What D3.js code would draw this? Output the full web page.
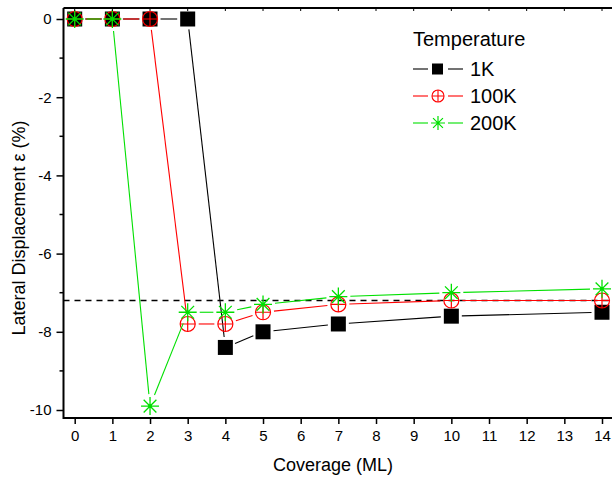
<!DOCTYPE html>
<html lang="en">
<head>
<meta charset="UTF-8">
<title>Lateral Displacement vs Coverage</title>
<script src="https://cdnjs.cloudflare.com/ajax/libs/d3/7.8.5/d3.min.js"></script>
<style>
    body { margin: 0; background: #fff; }
    svg { display: block; font-family: "Liberation Sans", Arial, sans-serif; }
</style>
</head>
<body>
<div id="chart"></div>
<script>
    // data
    const coverage = [0, 1, 2, 3, 4, 5, 7, 10, 14];
    const disp1K   = [0, 0, 0, 0, -8.4, -8.0, -7.8, -7.6, -7.5];
    const disp100K = [0, 0, 0, -7.8, -7.8, -7.5, -7.3, -7.2, -7.2];
    const disp200K = [0, 0, -9.9, -7.5, -7.5, -7.3, -7.1, -7.0, -6.9];
    const refLine = -7.2;
    const xTicks = d3.range(0, 15);
    const yTicks = [0, -2, -4, -6, -8, -10];

    const width = 612, height = 478;
    const margin = { left: 63.5, top: 8, right: -4, bottom: 60 };

    const svg = d3.select("#chart").append("svg")
        .attr("width", width).attr("height", height);

    const x = d3.scaleLinear().domain([0, 14]).range([74.7, 602]);
    const y = d3.scaleLinear().domain([0, -10]).range([19, 410]);

    const x0 = margin.left, x1 = width - margin.right;
    const yTop = margin.top, yBot = height - margin.bottom;

    // dashed reference line
    svg.append("line")
        .attr("x1", x0).attr("x2", x1)
        .attr("y1", y(refLine)).attr("y2", y(refLine))
        .attr("stroke", "#000").attr("stroke-width", 1.4)
        .attr("stroke-dasharray", "6,5");

    const series = [
        { name: "1K", values: disp1K, color: "#000", marker: "square", r: 7.5 },
        { name: "100K", values: disp100K, color: "#ff0000", marker: "circle", r: 8 },
        { name: "200K", values: disp200K, color: "#00e000", marker: "star", r: 9 }
    ];

    function drawMarker(g, type, cx, cy, color) {
        if (type === "square") {
            g.append("rect").attr("x", cx - 7.5).attr("y", cy - 7.5)
                .attr("width", 15).attr("height", 15).attr("fill", "#000");
        } else if (type === "circle") {
            g.append("circle").attr("cx", cx).attr("cy", cy).attr("r", 7.5)
                .attr("fill", "none").attr("stroke", color).attr("stroke-width", 1.2);
            g.append("path").attr("d", `M${cx - 7.5},${cy}H${cx + 7.5}M${cx},${cy - 7.5}V${cy + 7.5}`)
                .attr("stroke", color).attr("stroke-width", 1.2);
        } else {
            const r = 9;
            let d = "";
            for (let k = 0; k < 4; k++) {
                const a = k * Math.PI / 4;
                d += `M${cx - r * Math.cos(a)},${cy - r * Math.sin(a)}L${cx + r * Math.cos(a)},${cy + r * Math.sin(a)}`;
            }
            g.append("path").attr("d", d).attr("stroke", color).attr("stroke-width", 1.3);
            g.append("circle").attr("cx", cx).attr("cy", cy).attr("r", 1.8).attr("fill", color);
        }
    }

    series.forEach(s => {
        const g = svg.append("g");
        const pts = coverage.map((c, i) => [x(c), y(s.values[i])]);
        // segments with gaps around markers
        for (let i = 0; i < pts.length - 1; i++) {
            const [ax, ay] = pts[i], [bx, by] = pts[i + 1];
            const len = Math.hypot(bx - ax, by - ay);
            const gap = s.r + 3;
            if (len <= 2 * gap) continue;
            const ux = (bx - ax) / len, uy = (by - ay) / len;
            g.append("line")
                .attr("x1", ax + ux * gap).attr("y1", ay + uy * gap)
                .attr("x2", bx - ux * gap).attr("y2", by - uy * gap)
                .attr("stroke", s.color).attr("stroke-width", 1.1);
        }
        pts.forEach(p => drawMarker(g, s.marker, p[0], p[1], s.color));
    });

    // frame
    svg.append("path")
        .attr("d", `M${x0},${yTop}H${x1}M${x0},${yTop}V${yBot}H${x1}`)
        .attr("fill", "none").attr("stroke", "#000").attr("stroke-width", 2);

    // bottom axis
    const xAxis = svg.append("g").attr("transform", `translate(0,${yBot})`)
        .call(d3.axisBottom(x).tickValues(xTicks).tickSize(6).tickPadding(6).tickFormat(d => String(d)));
    xAxis.select(".domain").remove();
    xAxis.selectAll("line").attr("stroke-width", 1.5);
    xAxis.selectAll("text").attr("font-size", 15).attr("font-family", "Liberation Sans, Arial, sans-serif");

    // top minor ticks
    svg.append("g").selectAll("line").data(xTicks).join("line")
        .attr("x1", d => x(d)).attr("x2", d => x(d))
        .attr("y1", yTop).attr("y2", yTop + 3)
        .attr("stroke", "#000").attr("stroke-width", 1);

    // left axis
    const yAxis = svg.append("g").attr("transform", `translate(${x0},0)`)
        .call(d3.axisLeft(y).tickValues(yTicks).tickSize(7).tickPadding(5).tickFormat(d => String(d)));
    yAxis.select(".domain").remove();
    yAxis.selectAll("line").attr("stroke-width", 1.5);
    yAxis.selectAll("text").attr("font-size", 15).attr("font-family", "Liberation Sans, Arial, sans-serif");
    svg.append("g").selectAll("line").data([-1, -3, -5, -7, -9]).join("line")
        .attr("x1", x0 - 4).attr("x2", x0)
        .attr("y1", d => y(d)).attr("y2", d => y(d))
        .attr("stroke", "#000").attr("stroke-width", 1.5);

    // axis titles
    svg.append("text").attr("x", 333).attr("y", 471)
        .attr("text-anchor", "middle").attr("font-size", 18).text("Coverage (ML)");
    svg.append("text").attr("transform", "translate(25,228) rotate(-90)")
        .attr("text-anchor", "middle").attr("font-size", 18).text("Lateral Displacement ε (%)");

    // legend
    const leg = svg.append("g");
    leg.append("text").attr("x", 413).attr("y", 46).attr("font-size", 20).text("Temperature");
    series.forEach((s, i) => {
        const ly = 69 + i * 27;
        leg.append("line").attr("x1", 413).attr("x2", 428).attr("y1", ly).attr("y2", ly)
            .attr("stroke", s.color).attr("stroke-width", 1.1);
        leg.append("line").attr("x1", 448).attr("x2", 463).attr("y1", ly).attr("y2", ly)
            .attr("stroke", s.color).attr("stroke-width", 1.1);
        const mg = leg.append("g");
        if (s.marker === "square") {
            mg.append("rect").attr("x", 432).attr("y", ly - 5.5).attr("width", 11).attr("height", 11).attr("fill", "#000");
        } else if (s.marker === "circle") {
            mg.append("circle").attr("cx", 438).attr("cy", ly).attr("r", 6)
                .attr("fill", "none").attr("stroke", s.color).attr("stroke-width", 1.1);
            mg.append("path").attr("d", `M432,${ly}H444M438,${ly - 6}V${ly + 6}`)
                .attr("stroke", s.color).attr("stroke-width", 1.1);
        } else {
            let d = "";
            for (let k = 0; k < 4; k++) {
                const a = k * Math.PI / 4;
                d += `M${438 - 7 * Math.cos(a)},${ly - 7 * Math.sin(a)}L${438 + 7 * Math.cos(a)},${ly + 7 * Math.sin(a)}`;
            }
            mg.append("path").attr("d", d).attr("stroke", s.color).attr("stroke-width", 1.2);
        }
        leg.append("text").attr("x", 470).attr("y", ly + 7).attr("font-size", 20).text(s.name);
    });
</script>
</body>
</html>
